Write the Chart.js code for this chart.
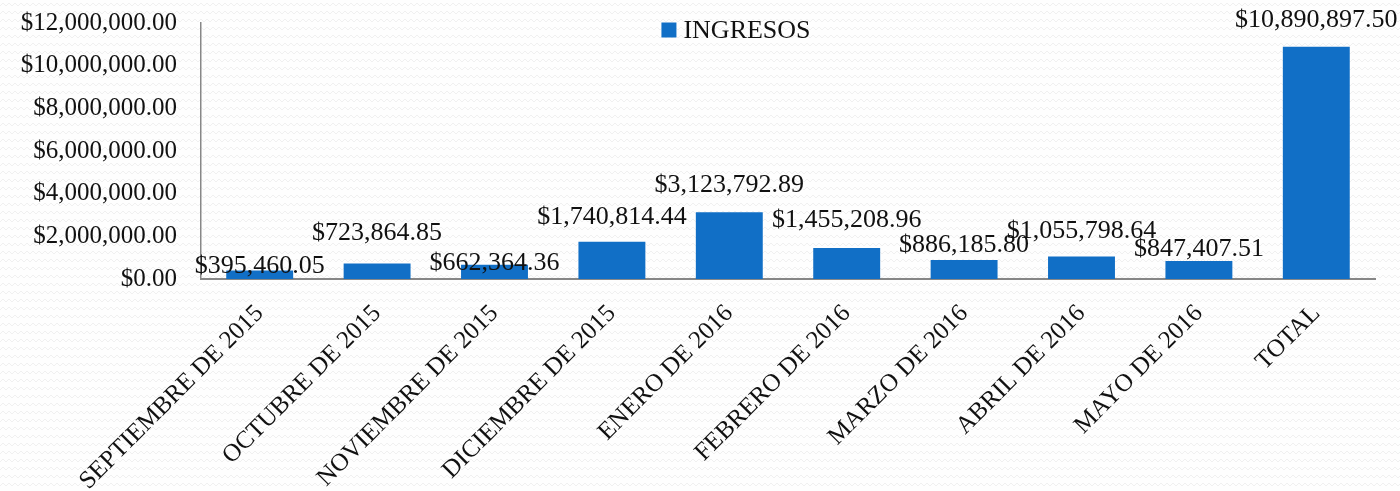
<!DOCTYPE html>
<html>
<head>
<meta charset="utf-8">
<script src="https://cdn.jsdelivr.net/npm/chart.js@4.4.1/dist/chart.umd.min.js"></script>
<style>
  html,body{margin:0;padding:0;}
  body{
    width:1400px;height:491px;overflow:hidden;
    background-color:#fefefe;
    background-image:url("data:image/svg+xml;utf8,<svg xmlns='http://www.w3.org/2000/svg' width='12' height='8'><path d='M0 6 L3 3 L6 6 L9 3 L12 6' fill='none' stroke='%23f0f0f0' stroke-width='1'/></svg>");
  }
  #wrap{position:relative;width:1400px;height:491px;}
</style>
</head>
<body>
<div id="wrap"><canvas id="ingresosChart"></canvas></div>
<script>
// data
const months = ['SEPTIEMBRE DE 2015','OCTUBRE DE 2015','NOVIEMBRE DE 2015','DICIEMBRE DE 2015','ENERO DE 2016','FEBRERO DE 2016','MARZO DE 2016','ABRIL DE 2016','MAYO DE 2016','TOTAL'];
const ingresos = [395460.05, 723864.85, 662364.36, 1740814.44, 3123792.89, 1455208.96, 886185.80, 1055798.64, 847407.51, 10890897.50];
const yTicks = [0, 2000000, 4000000, 6000000, 8000000, 10000000, 12000000];
const seriesName = 'INGRESOS';

// how far each value label sits above its bar (px), mimics the original placement
const labelLift = [4, 30, 2, 25, 27, 28, 15, 25, 12, 26];

const serif = '"Liberation Serif", "DejaVu Serif", serif';
const barColor = '#116fc6';
const money = new Intl.NumberFormat('en-US',{style:'currency',currency:'USD',minimumFractionDigits:2,maximumFractionDigits:2});

const valueLabels = {
  id:'valueLabels',
  afterDatasetsDraw(chart){
    const ctx = chart.ctx;
    const meta = chart.getDatasetMeta(0);
    ctx.save();
    ctx.font = '26px ' + serif;
    ctx.fillStyle = '#111';
    ctx.textAlign = 'center';
    ctx.textBaseline = 'middle';
    meta.data.forEach((bar,i)=>{
      ctx.fillText(money.format(ingresos[i]), bar.x, bar.y - labelLift[i]);
    });
    ctx.restore();
  }
};

// legend sits inside the plot, top centre
const innerLegend = {
  id:'innerLegend',
  afterDraw(chart){
    const ctx = chart.ctx;
    ctx.save();
    ctx.font = '26px ' + serif;
    const tw = ctx.measureText(seriesName).width;
    const box = 15, gap = 7;
    const x0 = 736 - (box + gap + tw)/2;
    const yc = 30;
    ctx.fillStyle = barColor;
    ctx.fillRect(x0, yc - box/2, box, box);
    ctx.fillStyle = '#111';
    ctx.textBaseline = 'middle';
    ctx.fillText(seriesName, x0 + box + gap, yc + 1);
    ctx.restore();
  }
};

new Chart(document.getElementById('ingresosChart'),{
  type:'bar',
  data:{
    labels:months,
    datasets:[{
      label:seriesName,
      data:ingresos,
      backgroundColor:barColor,
      borderWidth:0,
      categoryPercentage:1,
      barPercentage:0.57
    }]
  },
  options:{
    responsive:true,
    maintainAspectRatio:false,
    animation:false,
    layout:{autoPadding:false, padding:{top:23,right:25,left:0,bottom:0}},
    plugins:{
      legend:{display:false},
      tooltip:{enabled:false}
    },
    scales:{
      x:{
        grid:{display:false,drawTicks:false},
        border:{display:true,color:'#878787',width:2},
        ticks:{
          font:{family:serif,size:25},
          color:'#111',
          minRotation:45,
          maxRotation:45,
          padding:20,
          autoSkip:false
        },
        afterFit(s){ s.height = 212; s.paddingLeft = 0; s.paddingRight = 0; s.paddingTop = 0; s.paddingBottom = 0; }
      },
      y:{
        min:0,
        max:12000000,
        afterBuildTicks(s){ s.ticks = yTicks.map(v=>({value:v})); },
        grid:{display:false,drawTicks:false},
        border:{display:true,color:'#878787',width:1.5},
        ticks:{
          font:{family:serif,size:25},
          color:'#111',
          padding:24,
          callback:v=>money.format(v)
        },
        afterFit(s){ s.width = 201; s.paddingTop = 0; s.paddingBottom = 0; }
      }
    }
  },
  plugins:[valueLabels, innerLegend]
});
</script>
</body>
</html>
